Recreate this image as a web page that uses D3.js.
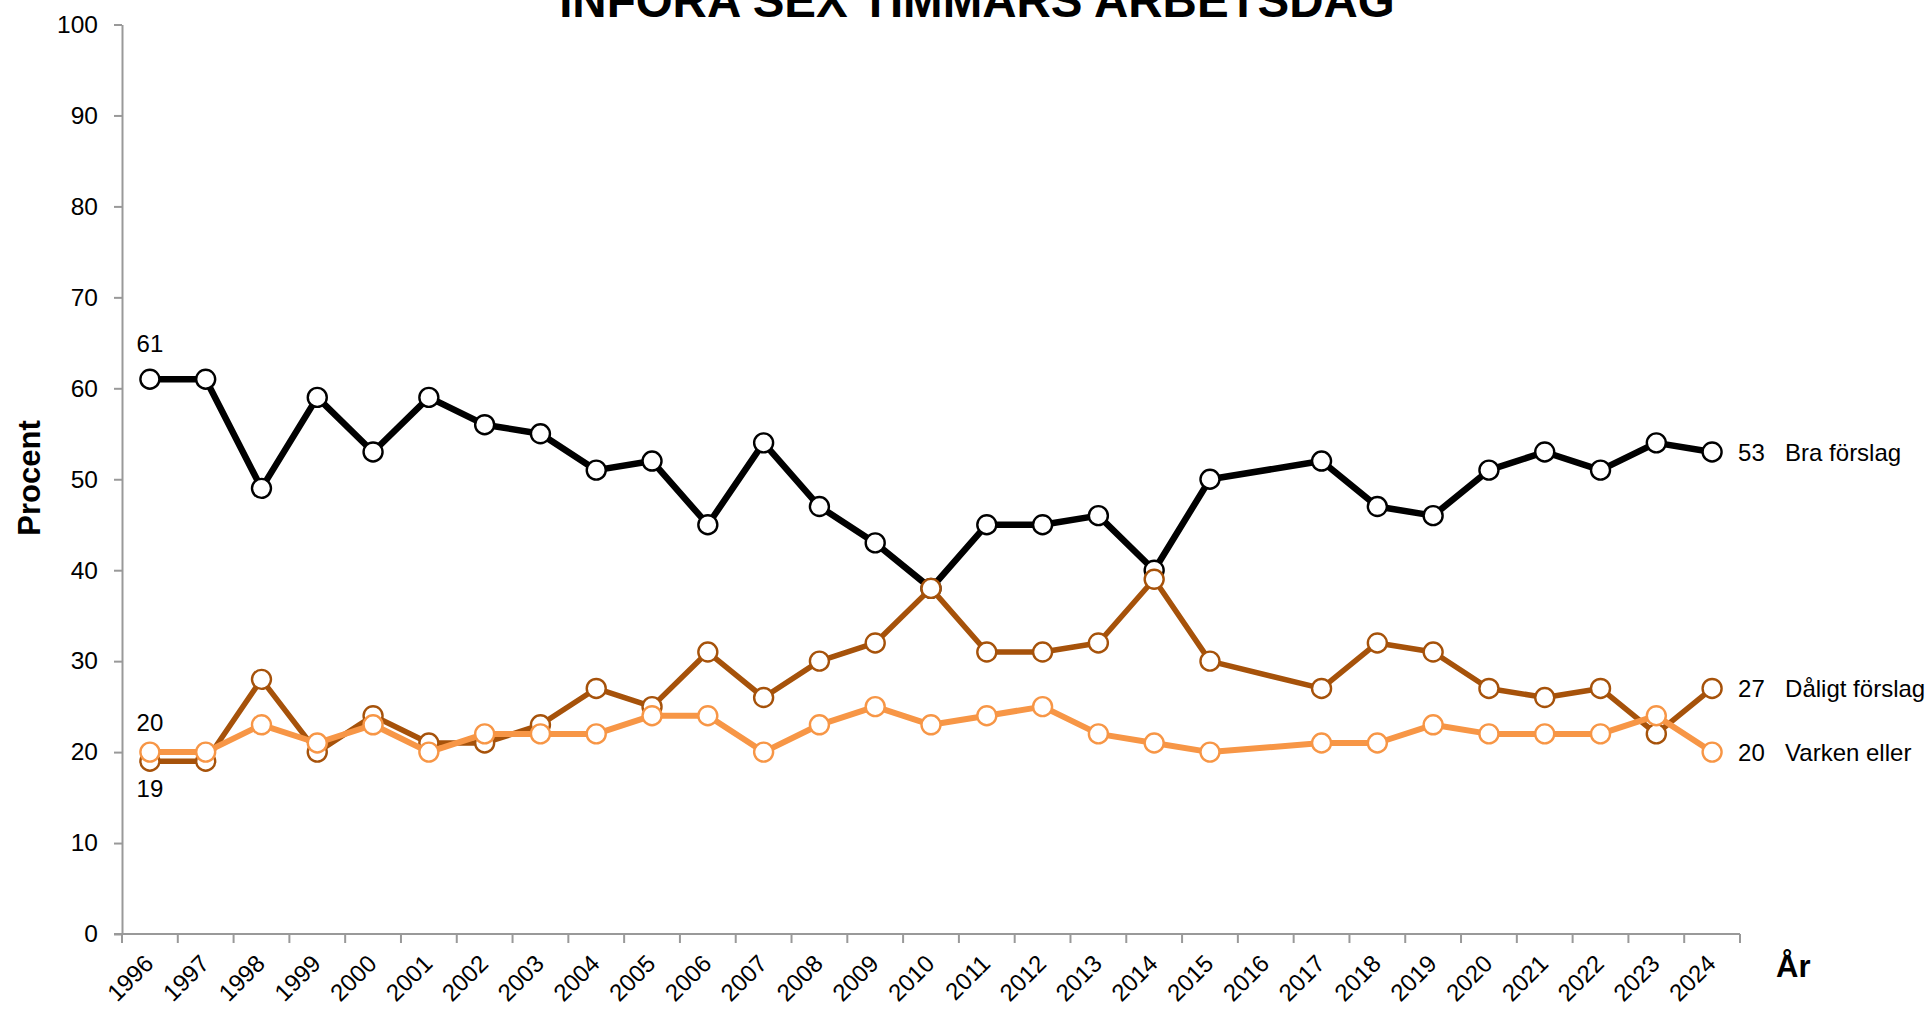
<!DOCTYPE html>
<html>
<head>
<meta charset="utf-8">
<script src="https://cdn.jsdelivr.net/npm/d3@7"></script>
<style>
  html, body { margin: 0; padding: 0; background: #fff; }
  svg { display: block; font-family: "Liberation Sans", Arial, sans-serif; }
</style>
</head>
<body>
<svg id="chart" width="1927" height="1009"></svg>
<script>
// Axis categories (every year, including years without a survey)
const categories = d3.range(1996, 2025);
// Years in which the question was asked (no survey in 2016)
const surveyYears = [1996, 1997, 1998, 1999, 2000, 2001, 2002, 2003, 2004, 2005, 2006, 2007, 2008, 2009,
                     2010, 2011, 2012, 2013, 2014, 2015, 2017, 2018, 2019, 2020, 2021, 2022, 2023, 2024];
const braForslag    = [61, 61, 49, 59, 53, 59, 56, 55, 51, 52, 45, 54, 47, 43, 38, 45, 45, 46, 40, 50, 52, 47, 46, 51, 53, 51, 54, 53];
const daligtForslag = [19, 19, 28, 20, 24, 21, 21, 23, 27, 25, 31, 26, 30, 32, 38, 31, 31, 32, 39, 30, 27, 32, 31, 27, 26, 27, 22, 27];
const varkenEller   = [20, 20, 23, 21, 23, 20, 22, 22, 22, 24, 24, 20, 23, 25, 23, 24, 25, 22, 21, 20, 21, 21, 23, 22, 22, 22, 24, 20];
const seriesNames   = ["Bra förslag", "Dåligt förslag", "Varken eller"];
const yTicks = [0, 10, 20, 30, 40, 50, 60, 70, 80, 90, 100];
const titleText = "INFÖRA SEX TIMMARS ARBETSDAG";

const series = [
  { name: seriesNames[0], values: braForslag,    color: "#000000", width: 6.5, startLabel: "above" },
  { name: seriesNames[1], values: daligtForslag, color: "#A6520A", width: 5.5, startLabel: "below" },
  { name: seriesNames[2], values: varkenEller,   color: "#F79646", width: 6,   startLabel: "above" }
];

const svg = d3.select("#chart");
const axisColor = "#999999";

const x = d3.scaleBand().domain(categories).range([122, 1740]).paddingInner(0).paddingOuter(0);
const y = d3.scaleLinear().domain([0, 100]).range([934, 24.5]);
const cx = yr => x(yr) + x.bandwidth() / 2;

// Title (sits partly above the top edge)
svg.append("text")
  .attr("x", 977).attr("y", 17)
  .attr("text-anchor", "middle")
  .attr("font-size", 47.5).attr("font-weight", "bold")
  .text(titleText);

// Y axis
const yAxis = svg.append("g")
  .attr("transform", `translate(${x.range()[0]},0)`)
  .call(d3.axisLeft(y).tickValues(yTicks).tickSize(8).tickSizeOuter(0).tickPadding(16));
yAxis.select(".domain").attr("stroke", axisColor).attr("stroke-width", 2);
yAxis.selectAll(".tick line").attr("stroke", axisColor).attr("stroke-width", 2);
yAxis.selectAll(".tick text").attr("font-size", 24.5).attr("fill", "#000")
  .attr("font-family", "Liberation Sans, Arial, sans-serif");

// X axis: line, boundary ticks between categories, rotated year labels
const xAxis = svg.append("g");
xAxis.append("line")
  .attr("x1", x.range()[0] - 8).attr("x2", x.range()[1])
  .attr("y1", y(0)).attr("y2", y(0))
  .attr("stroke", axisColor).attr("stroke-width", 2);
const boundaries = categories.map(c => x(c)).concat([x(categories[categories.length - 1]) + x.bandwidth()]);
xAxis.selectAll("line.tick").data(boundaries).join("line")
  .attr("class", "tick")
  .attr("x1", d => d).attr("x2", d => d)
  .attr("y1", y(0)).attr("y2", y(0) + 9)
  .attr("stroke", axisColor).attr("stroke-width", 2);
xAxis.selectAll("text.year").data(categories).join("text")
  .attr("class", "year")
  .attr("transform", d => `translate(${cx(d) + 5},${y(0) + 31}) rotate(-45)`)
  .attr("text-anchor", "end")
  .attr("font-size", 24)
  .text(d => d);

// Axis titles
svg.append("text")
  .attr("transform", "translate(40,478) rotate(-90)")
  .attr("text-anchor", "middle")
  .attr("font-size", 31).attr("font-weight", "bold")
  .text("Procent");
svg.append("text")
  .attr("x", 1776).attr("y", 977)
  .attr("font-size", 31).attr("font-weight", "bold")
  .text("År");

// Series lines and markers
const line = d3.line().x(d => cx(d.year)).y(d => y(d.value));
series.forEach(s => {
  const pts = surveyYears.map((yr, i) => ({ year: yr, value: s.values[i] }));
  const g = svg.append("g");
  g.append("path")
    .datum(pts)
    .attr("d", line)
    .attr("fill", "none")
    .attr("stroke", s.color)
    .attr("stroke-width", s.width)
    .attr("stroke-linejoin", "round");
  g.selectAll("circle").data(pts).join("circle")
    .attr("cx", d => cx(d.year))
    .attr("cy", d => y(d.value))
    .attr("r", 9.5)
    .attr("fill", "#fff")
    .attr("stroke", s.color)
    .attr("stroke-width", 2.4);
});

// Start value labels
series.forEach(s => {
  const v = s.values[0];
  const offset = s.startLabel === "above" ? (s.name === seriesNames[0] ? -27 : -21) : 36;
  svg.append("text")
    .attr("x", cx(surveyYears[0]))
    .attr("y", y(v) + offset)
    .attr("text-anchor", "middle")
    .attr("font-size", 24)
    .text(v);
});

// End value labels with series names
series.forEach(s => {
  const last = s.values[s.values.length - 1];
  const ly = y(last) + 9;
  const lx = cx(surveyYears[surveyYears.length - 1]);
  svg.append("text").attr("x", lx + 26).attr("y", ly).attr("font-size", 24).text(last);
  svg.append("text").attr("x", lx + 73).attr("y", ly).attr("font-size", 24).text(s.name);
});
</script>
</body>
</html>
